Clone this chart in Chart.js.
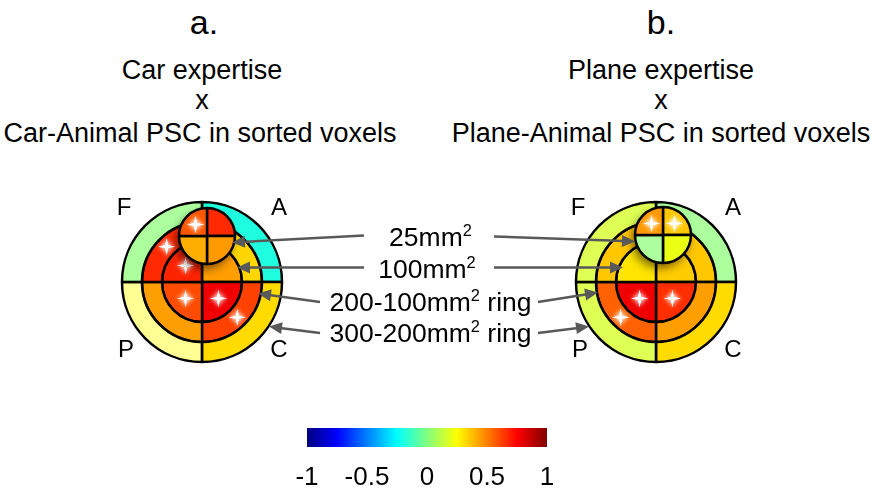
<!DOCTYPE html>
<html>
<head>
<meta charset="utf-8">
<script src="https://cdn.jsdelivr.net/npm/chart.js@4.4.0/dist/chart.umd.min.js"></script>
<style>
body { margin: 0; background: #fff; }
#page { position: relative; width: 871px; height: 491px; overflow: hidden;
        font-family: "Liberation Sans", Arial, sans-serif; color: #000; }
#page canvas, #page svg { position: absolute; }
.t { position: absolute; width: 600px; text-align: center; line-height: 1; white-space: nowrap; }
.t sup { font-size: 0.62em; vertical-align: 0.62em; line-height: 1; }
</style>
</head>
<body>
<div id="page"></div>
<script>
// quadrants go clockwise from 12 o'clock: A (top right), C, P, F (top left)
var quadrants = ['A', 'C', 'P', 'F'];
var colorTicks = [-1, -0.5, 0, 0.5, 1];

// a. Car expertise x Car-Animal PSC
var carOuter  = [-0.19, 0.32, 0.25, 0.02];
var carMiddle = [0.33, 0.62, 0.44, 0.67];
var carInner  = [0.44, 0.78, 0.60, 0.68];
var carSmall  = [0.67, 0.45, 0.41, 0.58];
var carOuterStars  = [0, 0, 0, 0];
var carMiddleStars = [0, 1, 0, 1];
var carInnerStars  = [0, 1, 1, 1];
var carSmallStars  = [0, 0, 0, 1];

// b. Plane expertise x Plane-Animal PSC
var planeOuter  = [0.02, 0.32, 0.17, 0.17];
var planeMiddle = [0.36, 0.44, 0.56, 0.36];
var planeInner  = [0.35, 0.66, 0.78, 0.30];
var planeSmall  = [0.36, 0.21, 0.02, 0.45];
var planeOuterStars  = [0, 0, 0, 0];
var planeMiddleStars = [0, 0, 1, 0];
var planeInnerStars  = [0, 1, 1, 0];
var planeSmallStars  = [1, 0, 0, 1];

// washed-out cells
var carOuterAlpha   = [1, 1, 0.42, 0.7];
var planeOuterAlpha = [0.7, 1, 0.8, 0.8];
var planeSmallAlpha = [1, 1, 0.7, 1];
var full = [1, 1, 1, 1];

var FONT = '"Liberation Sans", Arial, sans-serif';
Chart.defaults.font.family = FONT;
var page = document.getElementById('page');

function jet(v) {
  var x = (v + 1) / 2;
  var c = function (t) { return Math.round(255 * Math.min(1, Math.max(0, 1.5 - Math.abs(4 * x - t)))); };
  return [c(3), c(2), c(1)];
}
function cellColor(v, a) {
  var rgb = jet(v);
  return 'rgba(' + rgb[0] + ',' + rgb[1] + ',' + rgb[2] + ',' + (a == null ? 1 : a) + ')';
}

function addCanvas(left, top, w, h) {
  var c = document.createElement('canvas');
  c.width = w; c.height = h;
  c.style.left = left + 'px'; c.style.top = top + 'px';
  page.appendChild(c);
  return c;
}
function addText(html, cx, baseline, size) {
  var d = document.createElement('div');
  d.className = 't';
  d.innerHTML = html;
  d.style.fontSize = size + 'px';
  d.style.left = (cx - 300) + 'px';
  d.style.top = (baseline - 0.8465 * size) + 'px';
  page.appendChild(d);
}

function drawStar(ctx, x, y, r) {
  var w = r * 0.17;
  ctx.save();
  ctx.shadowColor = 'rgba(255,255,255,1)';
  ctx.shadowBlur = 5;
  ctx.fillStyle = '#fff';
  ctx.beginPath();
  ctx.moveTo(x, y - r);
  ctx.lineTo(x + w, y - w);
  ctx.lineTo(x + r, y);
  ctx.lineTo(x + w, y + w);
  ctx.lineTo(x, y + r);
  ctx.lineTo(x - w, y + w);
  ctx.lineTo(x - r, y);
  ctx.lineTo(x - w, y - w);
  ctx.closePath();
  ctx.fill();
  ctx.fill();
  ctx.restore();
}

var starPlugin = {
  id: 'stars',
  afterDatasetsDraw: function (chart) {
    chart.data.datasets.forEach(function (ds, i) {
      chart.getDatasetMeta(i).data.forEach(function (arc, j) {
        if (!ds.stars[j]) return;
        var mid = (arc.startAngle + arc.endAngle) / 2;
        var rr = arc.innerRadius > 0 ? (arc.innerRadius + arc.outerRadius) / 2 : arc.outerRadius * 0.58;
        drawStar(chart.ctx, arc.x + Math.cos(mid) * rr, arc.y + Math.sin(mid) * rr, 8.5);
      });
    });
  }
};

var letterPlugin = {
  id: 'letters',
  afterDraw: function (chart) {
    var arc = chart.getDatasetMeta(0).data[0];
    var ctx = chart.ctx;
    var offs = { F: [-78, -67], A: [77, -67], P: [-76, 75], C: [77, 75] };
    ctx.save();
    ctx.fillStyle = '#000';
    ctx.font = '24px ' + FONT;
    ctx.textAlign = 'center';
    ctx.textBaseline = 'alphabetic';
    quadrants.forEach(function (q) {
      ctx.fillText(q, arc.x + offs[q][0], arc.y + offs[q][1]);
    });
    ctx.restore();
  }
};

var shadowPlugin = {
  id: 'shadow',
  beforeDatasetsDraw: function (chart) {
    var arc = chart.getDatasetMeta(0).data[0];
    var ctx = chart.ctx;
    ctx.save();
    ctx.shadowColor = 'rgba(0,0,0,0.55)';
    ctx.shadowBlur = 10;
    ctx.shadowOffsetX = -3;
    ctx.shadowOffsetY = 5;
    ctx.fillStyle = '#fff';
    ctx.beginPath();
    ctx.arc(arc.x, arc.y, arc.outerRadius, 0, Math.PI * 2);
    ctx.fill();
    ctx.restore();
  }
};

function ring(values, alphas, stars, weight) {
  return {
    data: values.map(function () { return 1; }),
    backgroundColor: values.map(function (v, j) { return cellColor(v, alphas[j]); }),
    borderColor: '#000',
    borderWidth: 2.5,
    weight: weight,
    stars: stars
  };
}

function pieChart(canvas, radius, datasets, plugins) {
  return new Chart(canvas, {
    type: 'pie',
    data: { labels: quadrants, datasets: datasets },
    options: {
      responsive: false,
      animation: false,
      events: [],
      radius: radius,
      layout: { padding: 0 },
      plugins: { legend: { display: false }, tooltip: { enabled: false } }
    },
    plugins: plugins
  });
}

// panel a
pieChart(addCanvas(102, 182, 200, 200), 80, [
  ring(carOuter, carOuterAlpha, carOuterStars, 1),
  ring(carMiddle, full, carMiddleStars, 1),
  ring(carInner, full, carInnerStars, 2)
], [starPlugin, letterPlugin]);
pieChart(addCanvas(157, 186, 100, 100), 28, [
  ring(carSmall, full, carSmallStars, 1)
], [shadowPlugin, starPlugin]);

// panel b
pieChart(addCanvas(556, 182, 200, 200), 80, [
  ring(planeOuter, planeOuterAlpha, planeOuterStars, 1),
  ring(planeMiddle, full, planeMiddleStars, 1),
  ring(planeInner, full, planeInnerStars, 2)
], [starPlugin, letterPlugin]);
pieChart(addCanvas(613, 185, 100, 100), 28, [
  ring(planeSmall, planeSmallAlpha, planeSmallStars, 1)
], [shadowPlugin, starPlugin]);

// colour bar
new Chart(addCanvas(257, 424, 340, 67), {
  type: 'bar',
  data: {
    labels: [''],
    datasets: [{
      data: [[colorTicks[0], colorTicks[colorTicks.length - 1]]],
      backgroundColor: function (c) {
        var ca = c.chart.chartArea;
        if (!ca) return '#fff';
        var g = c.chart.ctx.createLinearGradient(ca.left, 0, ca.right, 0);
        for (var i = 0; i <= 40; i++) g.addColorStop(i / 40, cellColor(-1 + 2 * i / 40));
        return g;
      },
      borderWidth: 0,
      barPercentage: 1,
      categoryPercentage: 1
    }]
  },
  options: {
    indexAxis: 'y',
    responsive: false,
    animation: false,
    events: [],
    layout: { padding: { left: 50, right: 50, top: 4, bottom: 0 } },
    plugins: { legend: { display: false }, tooltip: { enabled: false } },
    scales: {
      x: {
        type: 'linear', min: -1, max: 1,
        afterBuildTicks: function (s) { s.ticks = colorTicks.map(function (v) { return { value: v }; }); },
        afterFit: function (s) { s.height = 44; },
        grid: { display: false, drawTicks: false },
        border: { display: false },
        ticks: { color: '#000', padding: 18, autoSkip: false, maxRotation: 0,
                 font: { size: 26, lineHeight: 1 }, callback: function (v) { return String(v); } }
      },
      y: { display: false }
    }
  }
});

// titles and labels
addText('a.', 204, 34, 34);
addText('Car expertise', 202, 80, 27);
addText('x', 202, 110, 27);
addText('Car-Animal PSC in sorted voxels', 200, 143, 27);
addText('b.', 661, 34, 34);
addText('Plane expertise', 661, 80, 27);
addText('x', 661, 110, 27);
addText('Plane-Animal PSC in sorted voxels', 661, 143, 27);
addText('25mm<sup>2</sup>', 430.5, 244, 26.5);
addText('100mm<sup>2</sup>', 427, 276.5, 26.5);
addText('200-100mm<sup>2</sup> ring', 430.5, 309, 26.5);
addText('300-200mm<sup>2</sup> ring', 430.5, 340, 26.5);

// pointer arrows: tail x, tail y, tip x, tip y
var arrows = [
  [364, 235.5, 232, 242.5], [364, 267.5, 237, 267.5],
  [320, 302, 258, 293.5], [320, 333, 269, 326.5],
  [494, 236.5, 635, 241.5], [494, 267.5, 623, 267.5],
  [538, 302, 598, 292.5], [538, 333, 589, 326.5]
];
var NS = 'http://www.w3.org/2000/svg';
var svg = document.createElementNS(NS, 'svg');
svg.setAttribute('width', 871); svg.setAttribute('height', 491);
svg.style.left = '0px'; svg.style.top = '0px';
arrows.forEach(function (a) {
  var dx = a[2] - a[0], dy = a[3] - a[1], len = Math.sqrt(dx * dx + dy * dy);
  var ux = dx / len, uy = dy / len, hl = 13, hw = 6;
  var bx = a[2] - ux * hl, by = a[3] - uy * hl;
  var line = document.createElementNS(NS, 'line');
  line.setAttribute('x1', a[0]); line.setAttribute('y1', a[1]);
  line.setAttribute('x2', bx + ux * 2); line.setAttribute('y2', by + uy * 2);
  line.setAttribute('stroke', '#595959'); line.setAttribute('stroke-width', 2.5);
  svg.appendChild(line);
  var head = document.createElementNS(NS, 'polygon');
  head.setAttribute('points', a[2] + ',' + a[3] + ' ' + (bx - uy * hw) + ',' + (by + ux * hw) + ' ' + (bx + uy * hw) + ',' + (by - ux * hw));
  head.setAttribute('fill', '#595959');
  svg.appendChild(head);
});
page.appendChild(svg);
</script>
</body>
</html>
